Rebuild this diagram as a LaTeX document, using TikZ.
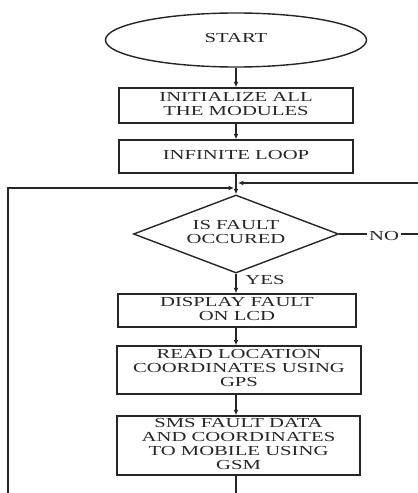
\documentclass[tikz,border=0pt]{standalone}
\usepackage{fontspec}
\setmainfont{Liberation Serif}
\usetikzlibrary{shapes.geometric,arrows.meta}

\newcommand{\flowtext}[1]{\scalebox{1.5}[1]{\begin{tabular}{@{}c@{}}#1\end{tabular}}}

\begin{document}
\begin{tikzpicture}[x=0.025cm,y=-0.025cm,line width=1pt,color=black!85,
  font=\fontsize{9.8}{10}\selectfont,
  >={Latex[length=3.8pt,width=3.4pt]},
  terminal/.style={draw,ellipse,inner sep=0pt,minimum width=6.525cm,minimum height=1.35cm},
  process/.style={draw,rectangle,inner sep=0pt},
  decision/.style={draw,diamond,inner sep=0pt,aspect=2.6,minimum width=5.125cm,minimum height=1.95cm}]

\useasboundingbox (0,0) rectangle (418,493);

%blocks
\node[terminal] (start) at (236,40) {\flowtext{START}};
\node[process,minimum width=5.85cm,minimum height=0.875cm] (init) at (236,105.5) {\flowtext{INITIALIZE ALL\\THE MODULES}};
\node[process,minimum width=5.85cm,minimum height=0.825cm] (loop) at (236,156.5) {\flowtext{INFINITE LOOP}};
\node[decision] (fault) at (236,234) {\flowtext{IS FAULT\\OCCURED}};
\node[process,minimum width=5.95cm,minimum height=0.825cm] (lcd) at (237,310.5) {\flowtext{DISPLAY FAULT\\ON LCD}};
\node[process,minimum width=6.1cm,minimum height=1.2cm] (gps) at (239,370) {\flowtext{READ LOCATION\\COORDINATES USING\\GPS}};
\node[process,minimum width=6.075cm,minimum height=1.475cm] (gsm) at (238.5,445.5) {\flowtext{SMS FAULT DATA\\AND COORDINATES\\TO MOBILE USING\\GSM}};

%free ends of the loop lines
\coordinate (joinL) at (234,188);
\coordinate (joinR) at (238,183);
\coordinate (loopB) at (8,493);
\coordinate (backE) at (418,183);
\coordinate (noE) at (418,234);
\coordinate (endB) at (236,493);

\draw[->] (start) -- (init);
\draw[->] (init) -- (loop);
\draw[->] (loop) -- (fault);
\draw[->] (fault.south) -- (lcd.north -| fault.south);
\node (yes) at (265,282) {\flowtext{YES}};
\draw[->] (lcd.south -| fault.south) -- (gps.north -| fault.south);
\draw[->] (gps.south -| fault.south) -- (gsm.north -| fault.south);
\draw (gsm.south -| fault.south) -- (endB);

\draw[->] (loopB) |- (joinL);
\draw[->] (backE) -- (joinR);
\draw (fault.east) -- (noE);
\node[fill=white,inner sep=1.5pt] (no) at (384,238) {\flowtext{NO}};

\end{tikzpicture}
\end{document}
